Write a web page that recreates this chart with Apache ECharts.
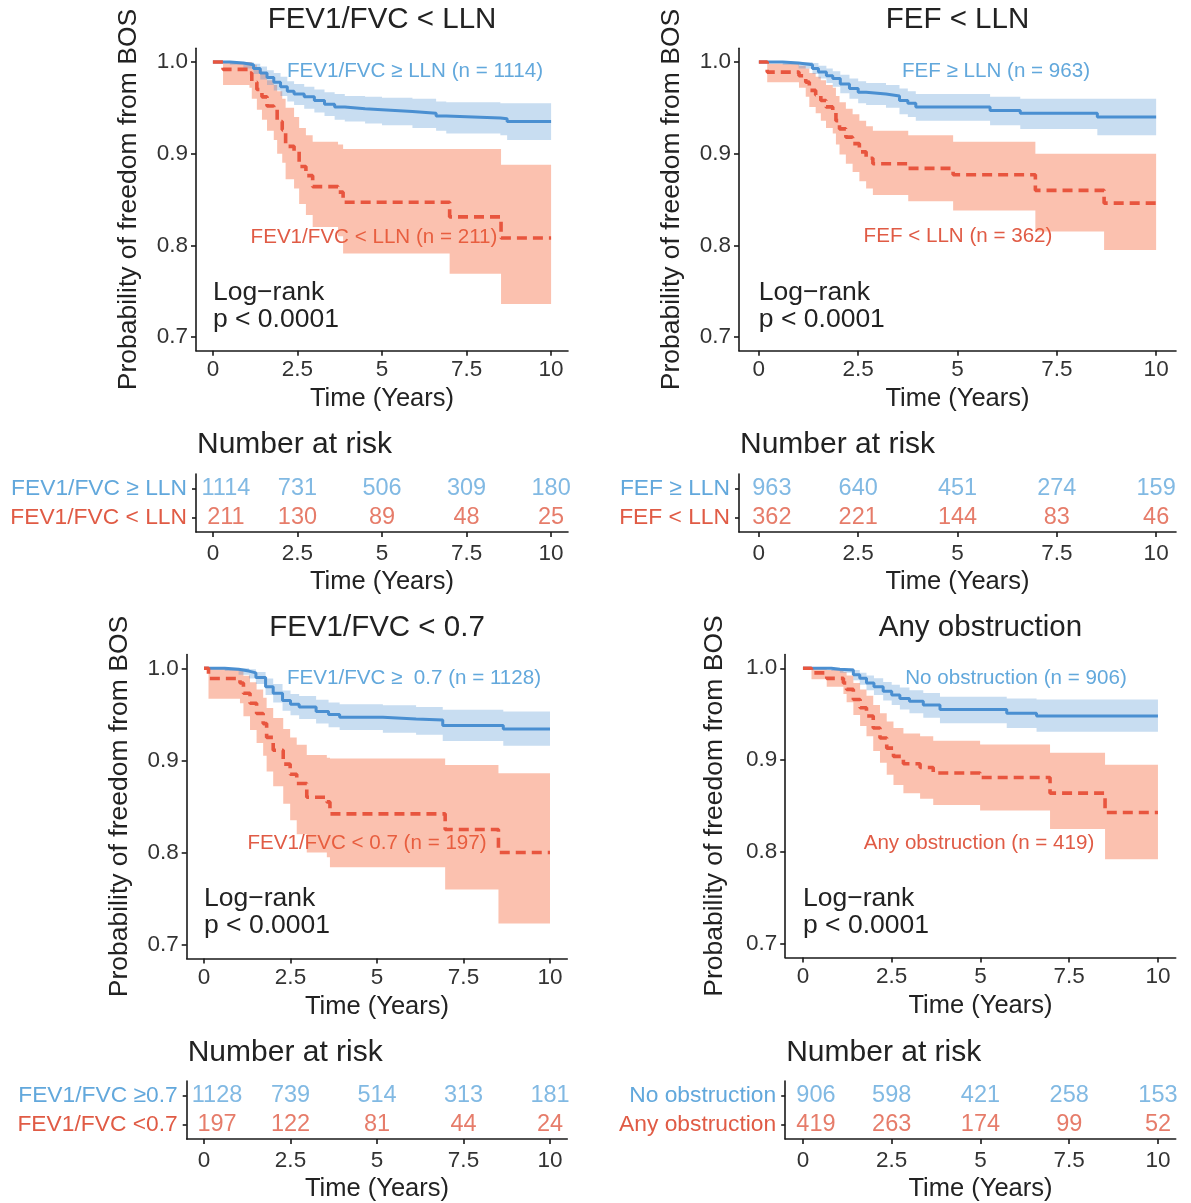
<!DOCTYPE html>
<html>
<head>
<meta charset="utf-8">
<script src="https://cdn.jsdelivr.net/npm/echarts@6/dist/echarts.min.js"></script>
<style>html,body{margin:0;padding:0;background:#fff;}#c{width:1191px;height:1203px;}</style>
</head>
<body>
<div id="c"></div>
<script>
// ---------- data ----------
const xTicks = [0, 2.5, 5, 7.5, 10];
const yTicks = [0.7, 0.8, 0.9, 1.0];
const riskTimes = [0, 2.5, 5, 7.5, 10];

const panelTitles = ['FEV1/FVC < LLN', 'FEF < LLN', 'FEV1/FVC < 0.7', 'Any obstruction'];
const plotLabelHigh = ['FEV1/FVC \u2265 LLN (n = 1114)', 'FEF \u2265 LLN (n = 963)', 'FEV1/FVC \u2265  0.7 (n = 1128)', 'No obstruction (n = 906)'];
const plotLabelLow = ['FEV1/FVC < LLN (n = 211)', 'FEF < LLN (n = 362)', 'FEV1/FVC < 0.7 (n = 197)', 'Any obstruction (n = 419)'];
const tableLabelHigh = ['FEV1/FVC \u2265 LLN', 'FEF \u2265 LLN', 'FEV1/FVC \u22650.7', 'No obstruction'];
const tableLabelLow = ['FEV1/FVC < LLN', 'FEF < LLN', 'FEV1/FVC <0.7', 'Any obstruction'];

// numbers at risk
const risk1High = [1114, 731, 506, 309, 180];
const risk1Low = [211, 130, 89, 48, 25];
const risk2High = [963, 640, 451, 274, 159];
const risk2Low = [362, 221, 144, 83, 46];
const risk3High = [1128, 739, 514, 313, 181];
const risk3Low = [197, 122, 81, 44, 24];
const risk4High = [906, 598, 421, 258, 153];
const risk4Low = [419, 263, 174, 99, 52];

// Kaplan-Meier steps: [time, survival, lower CI, upper CI]
const km1High = [
  [0,1,1,1],[0.5,0.999,0.997,1],[0.9,0.997,0.993,1],[1.2,0.993,0.987,0.998],[1.4,0.988,0.981,0.995],
  [1.6,0.983,0.975,0.991],[1.8,0.978,0.969,0.988],[2.0,0.973,0.963,0.984],[2.2,0.968,0.957,0.979],
  [2.4,0.965,0.953,0.976],[2.7,0.962,0.949,0.973],[3.0,0.958,0.945,0.970],[3.3,0.954,0.941,0.967],
  [3.6,0.951,0.937,0.965],[3.9,0.949,0.935,0.963],[4.5,0.948,0.933,0.962],[5.0,0.946,0.931,0.961],
  [5.9,0.944,0.928,0.960],[6.6,0.941,0.925,0.957],[6.9,0.939,0.922,0.956],[8.5,0.938,0.920,0.955],
  [8.7,0.935,0.915,0.955],[10,0.935,0.915,0.955]
];
const km1Low = [
  [0,1,1,1],[0.3,0.992,0.975,1],[1.08,0.988,0.972,1],[1.15,0.978,0.960,0.997],[1.3,0.970,0.948,0.992],
  [1.45,0.962,0.937,0.987],[1.6,0.952,0.925,0.980],[1.8,0.948,0.915,0.975],[1.9,0.935,0.900,0.968],
  [2.05,0.926,0.890,0.960],[2.15,0.908,0.872,0.950],[2.4,0.903,0.862,0.940],[2.55,0.886,0.845,0.928],
  [2.75,0.876,0.833,0.920],[2.95,0.864,0.820,0.913],[3.7,0.858,0.810,0.910],[3.85,0.847,0.791,0.905],
  [7.0,0.831,0.769,0.905],[8.52,0.808,0.736,0.888],[10,0.808,0.736,0.888]
];
const km2High = [
  [0,1,1,1],[0.6,0.999,0.997,1],[1.0,0.997,0.993,1],[1.35,0.993,0.987,0.999],[1.5,0.989,0.982,0.996],
  [1.7,0.985,0.977,0.993],[1.86,0.982,0.973,0.990],[2.05,0.976,0.966,0.986],[2.28,0.971,0.960,0.982],
  [2.5,0.967,0.955,0.979],[2.7,0.965,0.953,0.977],[3.2,0.963,0.950,0.975],[3.54,0.958,0.943,0.971],
  [3.75,0.955,0.940,0.968],[3.95,0.951,0.936,0.965],[5.82,0.947,0.931,0.962],[6.58,0.944,0.927,0.960],
  [8.52,0.940,0.920,0.960],[10,0.940,0.920,0.960]
];
const km2Low = [
  [0,1,1,1],[0.21,0.989,0.978,0.998],[1.01,0.985,0.972,0.996],[1.18,0.978,0.962,0.993],[1.27,0.969,0.951,0.988],
  [1.43,0.964,0.944,0.984],[1.56,0.958,0.936,0.980],[1.69,0.951,0.928,0.975],[1.86,0.947,0.922,0.972],
  [1.94,0.936,0.910,0.963],[2.03,0.927,0.899,0.956],[2.19,0.918,0.889,0.949],[2.36,0.911,0.880,0.943],
  [2.53,0.902,0.870,0.936],[2.7,0.895,0.862,0.930],[2.87,0.889,0.855,0.925],[3.76,0.884,0.848,0.920],
  [4.89,0.877,0.838,0.913],[6.96,0.860,0.815,0.900],[8.69,0.846,0.795,0.900],[10,0.846,0.795,0.900]
];
const km3High = [
  [0,1,1,1],[0.6,0.999,0.997,1],[1.0,0.997,0.993,1],[1.3,0.995,0.989,0.999],[1.5,0.990,0.983,0.996],
  [1.78,0.980,0.971,0.989],[2.0,0.973,0.963,0.983],[2.27,0.965,0.954,0.976],[2.5,0.961,0.949,0.972],
  [2.75,0.958,0.945,0.970],[3.24,0.953,0.940,0.966],[3.6,0.950,0.936,0.963],[3.92,0.947,0.933,0.961],
  [5.17,0.945,0.930,0.960],[6.13,0.944,0.928,0.958],[6.9,0.938,0.921,0.955],[8.65,0.934,0.916,0.953],
  [10,0.934,0.916,0.953]
];
const km3Low = [
  [0,1,1,1],[0.13,0.989,0.967,1],[1.04,0.984,0.962,0.998],[1.14,0.973,0.948,0.992],[1.33,0.962,0.933,0.985],
  [1.52,0.951,0.919,0.977],[1.71,0.940,0.905,0.968],[1.81,0.925,0.888,0.957],[2.0,0.911,0.872,0.946],
  [2.29,0.896,0.853,0.934],[2.49,0.885,0.835,0.925],[2.68,0.875,0.820,0.917],[2.97,0.860,0.800,0.906],
  [3.55,0.855,0.795,0.903],[3.64,0.842,0.784,0.902],[6.97,0.825,0.760,0.895],[8.51,0.800,0.723,0.886],
  [10,0.800,0.723,0.886]
];
const km4High = [
  [0,1,1,1],[0.8,0.999,0.997,1],[1.04,0.998,0.995,1],[1.42,0.993,0.987,0.998],[1.6,0.989,0.982,0.995],
  [1.79,0.984,0.976,0.992],[2.0,0.980,0.971,0.989],[2.26,0.975,0.965,0.985],[2.5,0.971,0.960,0.982],
  [2.73,0.967,0.955,0.979],[3.0,0.964,0.951,0.976],[3.39,0.960,0.946,0.973],[3.86,0.955,0.940,0.969],
  [5.74,0.951,0.935,0.967],[6.58,0.948,0.931,0.966],[10,0.948,0.931,0.966]
];
const km4Low = [
  [0,1,1,1],[0.24,0.995,0.988,1],[0.67,0.989,0.980,0.998],[1.14,0.984,0.972,0.996],[1.23,0.977,0.963,0.992],
  [1.42,0.966,0.949,0.984],[1.61,0.957,0.937,0.977],[1.79,0.948,0.926,0.970],[1.98,0.935,0.910,0.960],
  [2.17,0.924,0.897,0.951],[2.36,0.913,0.884,0.942],[2.55,0.904,0.873,0.935],[2.83,0.896,0.864,0.929],
  [3.3,0.892,0.858,0.926],[3.67,0.886,0.851,0.921],[4.99,0.881,0.845,0.917],[6.96,0.864,0.825,0.908],
  [8.51,0.843,0.792,0.895],[10,0.843,0.792,0.895]
];

const kmHigh = [km1High, km2High, km3High, km4High];
const kmLow = [km1Low, km2Low, km3Low, km4Low];
const riskHigh = [risk1High, risk2High, risk3High, risk4High];
const riskLow = [risk1Low, risk2Low, risk3Low, risk4Low];

// ---------- styling / layout ----------
const FONT = '"Liberation Sans", Arial, sans-serif';
const BLUE_LINE = '#4a8fd1', RED_LINE = '#e8553e';
const BLUE_FILL = 'rgba(74,143,209,0.30)', RED_FILL = 'rgba(245,100,55,0.40)';
const BLUE_TXT = '#62a8dc', RED_TXT = '#e05b45';
const DARK = '#222', TICK = '#333';

const plotGrids = [
  {left:196, top:48.25, width:372, height:302.5},
  {left:739, top:48.25, width:437, height:302.5},
  {left:186.7, top:654.5, width:380.6, height:304},
  {left:785.2, top:654.5, width:390.5, height:303}
];
const tableGrids = [
  {left:196, top:474, width:372, height:58},
  {left:739, top:474, width:437, height:58},
  {left:186.7, top:1081, width:380.6, height:58},
  {left:785.2, top:1081, width:390.5, height:58}
];
const titleY = [20, 20, 628, 628];
const nriskTitleY = [445, 445, 1053, 1053];
const yNameGap = [54, 54, 54, 57];
const highLabelPos = [[415,71],[996,71],[414,678],[1016,678]];
const lowLabelPos = [[374,237],[958,236],[367,843],[979,843]];

function stepPts(rows, idx) {
  const pts = [];
  for (let i = 0; i < rows.length; i++) {
    if (i > 0) pts.push([rows[i][0], rows[i-1][idx]]);
    pts.push([rows[i][0], rows[i][idx]]);
  }
  return pts;
}
function bandPoly(rows) {
  return stepPts(rows, 3).concat(stepPts(rows, 2).reverse());
}

const grid = [], xAxis = [], yAxis = [], series = [], graphic = [];

for (let k = 0; k < 4; k++) grid.push(Object.assign({containLabel:false}, plotGrids[k]));
for (let k = 0; k < 4; k++) grid.push(Object.assign({containLabel:false}, tableGrids[k]));

const axisLineStyle = {color:'#1a1a1a', width:1.6};
function xAxisDef(gi, gap, margin) {
  return {
    gridIndex: gi, type:'value', min:-0.5, max:10.5,
    axisLine:{show:true, onZero:false, lineStyle:axisLineStyle},
    axisTick:{show:true, length:5, lineStyle:axisLineStyle, customValues:xTicks},
    axisLabel:{show:true, customValues:xTicks, fontSize:22.5, fontFamily:FONT, color:TICK, margin:margin,
      formatter:v => String(v)},
    splitLine:{show:false},
    name:'Time (Years)', nameLocation:'middle', nameGap:gap,
    nameTextStyle:{fontSize:25.5, fontFamily:FONT, color:DARK}
  };
}
for (let k = 0; k < 4; k++) {
  xAxis.push(xAxisDef(k, 35, 8));
  yAxis.push({
    gridIndex:k, type:'value', min:0.685, max:1.015,
    axisLine:{show:true, onZero:false, lineStyle:axisLineStyle},
    axisTick:{show:true, length:5, lineStyle:axisLineStyle, customValues:yTicks},
    axisLabel:{show:true, customValues:yTicks, fontSize:22.5, fontFamily:FONT, color:TICK, margin:8,
      formatter:v => v.toFixed(1)},
    splitLine:{show:false},
    name:'Probability of freedom from BOS', nameLocation:'middle', nameRotate:90, nameGap:yNameGap[k],
    nameTextStyle:{fontSize:26.5, fontFamily:FONT, color:DARK}
  });
}
for (let k = 0; k < 4; k++) {
  xAxis.push(xAxisDef(4 + k, 37, 10));
  const labs = {low: tableLabelLow[k], high: tableLabelHigh[k]};
  yAxis.push({
    gridIndex:4 + k, type:'category', data:['low','high'],
    axisLine:{show:true, onZero:false, lineStyle:axisLineStyle},
    axisTick:{show:true, length:4, alignWithLabel:true, interval:0, lineStyle:axisLineStyle},
    axisLabel:{show:true, interval:0, hideOverlap:false, fontSize:22.8, fontFamily:FONT, margin:9,
      formatter:v => labs[v],
      color:v => (v === 'high' ? BLUE_TXT : RED_TXT)},
    splitLine:{show:false}
  });
}

for (let k = 0; k < 4; k++) {
  const bands = [[kmLow[k], RED_FILL], [kmHigh[k], BLUE_FILL]];
  bands.forEach(([rows, fill]) => {
    const poly = bandPoly(rows);
    series.push({
      type:'custom', xAxisIndex:k, yAxisIndex:k, silent:true, z:1,
      data:[[0, 1]],
      renderItem:(params, api) => ({
        type:'polygon',
        shape:{points: poly.map(p => api.coord(p))},
        style:{fill: fill}
      })
    });
  });
  series.push({
    type:'line', xAxisIndex:k, yAxisIndex:k, step:'end', symbol:'none', z:3,
    data: kmHigh[k].map(r => [r[0], r[1]]),
    lineStyle:{color:BLUE_LINE, width:3}
  });
  series.push({
    type:'line', xAxisIndex:k, yAxisIndex:k, step:'end', symbol:'none', z:4,
    data: kmLow[k].map(r => [r[0], r[1]]),
    lineStyle:{color:RED_LINE, width:3.6, type:[10, 6]}
  });
  // risk table numbers
  [['high', riskHigh[k], BLUE_TXT], ['low', riskLow[k], RED_TXT]].forEach(([cat, vals, col]) => {
    series.push({
      type:'scatter', xAxisIndex:4 + k, yAxisIndex:4 + k, symbolSize:1, silent:true,
      itemStyle:{color:'rgba(0,0,0,0)'},
      data: riskTimes.map((t, i) => ({
        value:[t, cat, vals[i]],
        label:{offset: i === 0 ? [13, 0] : [0, 0]}
      })),
      label:{show:true, position:'inside', formatter:p => String(p.value[2]),
        fontSize:23.5, fontFamily:FONT, color:col}
    });
  });

  // texts
  const g = plotGrids[k];
  graphic.push({type:'text', x:g.left + g.width / 2, y:titleY[k],
    style:{text:panelTitles[k], fontSize:29.5, fontFamily:FONT, fill:DARK, align:'center', verticalAlign:'middle'}});
  graphic.push({type:'text', x:tableGrids[k].left + 1, y:nriskTitleY[k],
    style:{text:'Number at risk', fontSize:30, fontFamily:FONT, fill:DARK, align:'left', verticalAlign:'middle'}});
  const lrX = g.left + (g.width / 11) * 0.5;
  const lrY = g.top + (k < 2 ? 257.5 : 258);
  graphic.push({type:'text', x:lrX, y:lrY,
    style:{text:'Log\u2212rank\np < 0.0001', fontSize:26.5, lineHeight:27, fontFamily:FONT, fill:DARK, align:'left', verticalAlign:'middle'}});
  graphic.push({type:'text', x:highLabelPos[k][0], y:highLabelPos[k][1],
    style:{text:plotLabelHigh[k], fontSize:20.6, fontFamily:FONT, fill:BLUE_TXT, align:'center', verticalAlign:'middle'}});
  graphic.push({type:'text', x:lowLabelPos[k][0], y:lowLabelPos[k][1],
    style:{text:plotLabelLow[k], fontSize:20.6, fontFamily:FONT, fill:RED_TXT, align:'center', verticalAlign:'middle'}});
}

const chart = echarts.init(document.getElementById('c'), null, {renderer:'canvas', width:1191, height:1203});
chart.setOption({
  animation:false,
  backgroundColor:'#fff',
  textStyle:{fontFamily:FONT},
  grid, xAxis, yAxis, series, graphic
});
</script>
</body>
</html>
